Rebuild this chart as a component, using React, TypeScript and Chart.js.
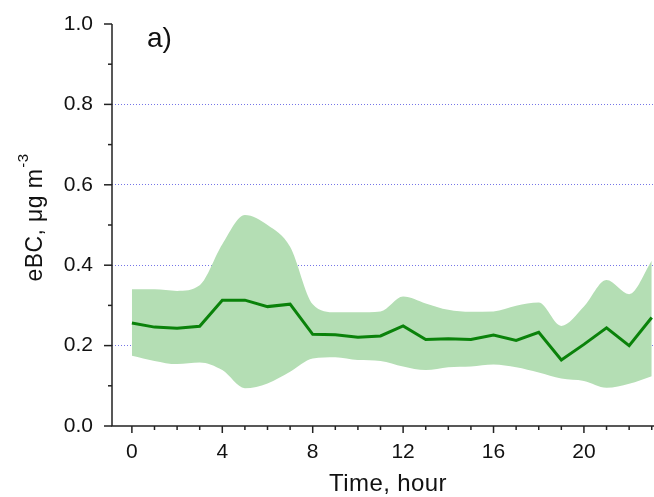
import React, { useEffect, useRef } from "react";
import { Chart, registerables } from "chart.js";

Chart.register(...registerables);

const hours = [0, 1, 2, 3, 4, 5, 6, 7, 8, 9, 10, 11, 12, 13, 14, 15, 16, 17, 18, 19, 20, 21, 22, 23];
const meanValues = [0.256, 0.246, 0.243, 0.248, 0.313, 0.313, 0.297, 0.303, 0.228, 0.227, 0.221, 0.224, 0.249, 0.215, 0.217, 0.215, 0.226, 0.213, 0.233, 0.164, 0.203, 0.244, 0.2, 0.27];
const upperValues = [0.34, 0.34, 0.336, 0.35, 0.452, 0.525, 0.5, 0.446, 0.303, 0.283, 0.283, 0.285, 0.322, 0.305, 0.289, 0.284, 0.285, 0.299, 0.307, 0.249, 0.297, 0.363, 0.328, 0.411];
const lowerValues = [0.175, 0.162, 0.154, 0.158, 0.139, 0.094, 0.106, 0.135, 0.168, 0.171, 0.164, 0.162, 0.148, 0.139, 0.146, 0.148, 0.153, 0.146, 0.133, 0.118, 0.112, 0.095, 0.105, 0.124];
const xTickLabels = [0, 4, 8, 12, 16, 20];
const yTickLabels = [0, 0.2, 0.4, 0.6, 0.8, 1.0];
const panelLabel = "a)";
const xTitle = "Time, hour";
const yTitleMain = "eBC, μg m";
const yTitleSup = "-3";

const FONT = "'Liberation Sans', Arial, sans-serif";

const decorPlugin = {
  id: "decor",
  afterDraw(chart: any) {
    const ctx = chart.ctx;
    const xs = chart.scales.x;
    const ys = chart.scales.y;
    const area = chart.chartArea;
    ctx.save();
    ctx.strokeStyle = "#222";
    ctx.lineWidth = 1.5;
    // axis lines
    ctx.beginPath();
    ctx.moveTo(area.left, area.top);
    ctx.lineTo(area.left, area.bottom);
    ctx.lineTo(area.right, area.bottom);
    ctx.stroke();
    // x ticks
    for (let h = 0; h <= 23; h++) {
      const px = xs.getPixelForValue(h);
      const major = xTickLabels.includes(h);
      ctx.beginPath();
      ctx.moveTo(px, area.bottom);
      ctx.lineTo(px, area.bottom + (major ? 7 : 4));
      ctx.stroke();
    }
    // y ticks
    for (let i = 0; i <= 10; i++) {
      const v = i / 10;
      const py = ys.getPixelForValue(v);
      const major = i % 2 === 0;
      ctx.beginPath();
      ctx.moveTo(area.left, py);
      ctx.lineTo(area.left - (major ? 8 : 4), py);
      ctx.stroke();
    }
    // panel label
    ctx.fillStyle = "#111";
    ctx.font = `28px ${FONT}`;
    ctx.textAlign = "left";
    ctx.textBaseline = "alphabetic";
    ctx.fillText(panelLabel, area.left + 35, 47);
    // x title
    ctx.font = `24px ${FONT}`;
    (ctx as any).letterSpacing = "0.4px";
    ctx.textAlign = "center";
    ctx.fillText(xTitle, 388, 491);
    // y title
    ctx.translate(42, 218);
    ctx.rotate(-Math.PI / 2);
    ctx.font = `23px ${FONT}`;
    const w1 = ctx.measureText(yTitleMain).width;
    ctx.font = `15px ${FONT}`;
    const w2 = ctx.measureText(yTitleSup).width;
    const start = -(w1 + w2) / 2;
    ctx.textAlign = "left";
    ctx.font = `23px ${FONT}`;
    ctx.fillText(yTitleMain, start, 0);
    ctx.font = `15px ${FONT}`;
    ctx.fillText(yTitleSup, start + w1 + 1, -14);
    ctx.restore();
  },
};

export default function App() {
  const ref = useRef<HTMLCanvasElement | null>(null);
  useEffect(() => {
    document.body.style.margin = "0";
    const canvas = ref.current!;
    const chart = new Chart(canvas, {
      type: "line",
      data: {
        datasets: [
          {
            label: "mean",
            data: hours.map((h, i) => ({ x: h, y: meanValues[i] })),
            borderColor: "#0a820a",
            borderWidth: 3,
            pointRadius: 0,
            tension: 0,
            fill: false,
          },
          {
            label: "upper",
            data: hours.map((h, i) => ({ x: h, y: upperValues[i] })),
            borderWidth: 0,
            borderColor: "rgba(0,0,0,0)",
            backgroundColor: "rgb(180,222,180)",
            pointRadius: 0,
            cubicInterpolationMode: "monotone",
            fill: "+1",
          },
          {
            label: "lower",
            data: hours.map((h, i) => ({ x: h, y: lowerValues[i] })),
            borderWidth: 0,
            borderColor: "rgba(0,0,0,0)",
            pointRadius: 0,
            cubicInterpolationMode: "monotone",
            fill: false,
          },
        ],
      },
      options: {
        responsive: false,
        animation: false,
        layout: { padding: { top: 24, left: 0, right: 0, bottom: 0 } },
        plugins: { legend: { display: false }, tooltip: { enabled: false } },
        scales: {
          x: {
            type: "linear",
            min: -0.88,
            max: 23.1,
            afterFit: (s: any) => {
              s.height = 71;
              s.paddingLeft = 0;
              s.paddingRight = 0;
            },
            afterBuildTicks: (s: any) => {
              s.ticks = xTickLabels.map((v) => ({ value: v }));
            },
            grid: { display: false, drawTicks: false },
            border: { display: false },
            ticks: {
              padding: 14,
              color: "#111",
              font: { family: FONT, size: 21 },
              maxRotation: 0,
              autoSkip: false,
              callback: (v: any) => String(v),
            },
          },
          y: {
            type: "linear",
            min: 0,
            max: 1,
            afterFit: (s: any) => {
              s.width = 112;
              s.paddingTop = 0;
              s.paddingBottom = 0;
            },
            afterBuildTicks: (s: any) => {
              s.ticks = yTickLabels.map((v) => ({ value: v }));
            },
            grid: {
              drawTicks: false,
              color: (c: any) =>
                c.tick && c.tick.value > 0.01 && c.tick.value < 0.99 ? "rgba(110,110,230,0.95)" : "rgba(0,0,0,0)",
              lineWidth: 1,
            },
            border: { display: false, dash: [1, 2] },
            ticks: {
              padding: 19,
              color: "#111",
              font: { family: FONT, size: 21 },
              callback: (v: any) => Number(v).toFixed(1),
            },
          },
        },
      },
      plugins: [decorPlugin],
    } as any);
    return () => chart.destroy();
  }, []);
  return <canvas ref={ref} width={654} height={497} style={{ display: "block", width: 654, height: 497 }} />;
}
